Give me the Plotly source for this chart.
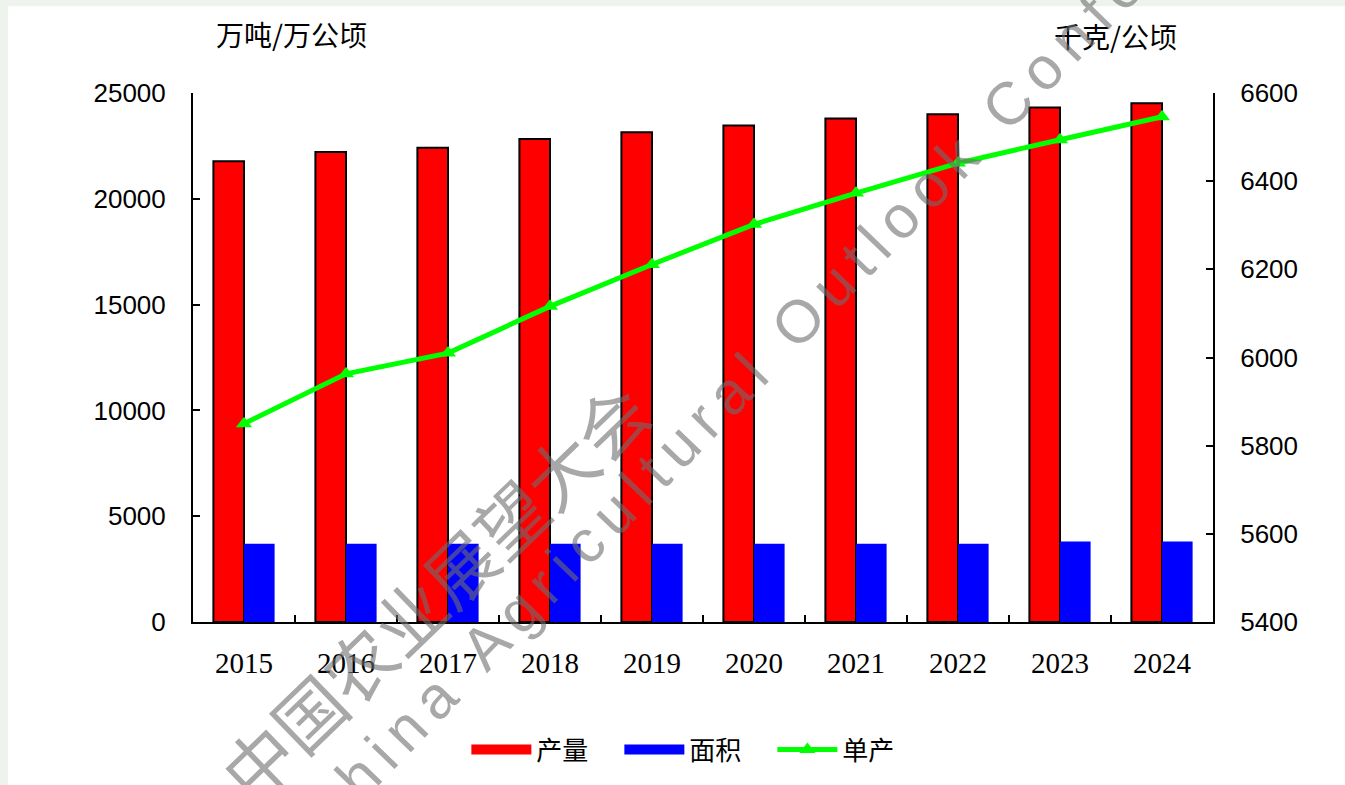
import plotly.graph_objects as go

years = ["2015", "2016", "2017", "2018", "2019", "2020", "2021", "2022", "2023", "2024"]
production = [21780, 22210, 22410, 22830, 23150, 23460, 23790, 24000, 24310, 24520]
area = [3700, 3700, 3700, 3700, 3700, 3700, 3700, 3700, 3810, 3810]
yield_ = [5850, 5963, 6010, 6116, 6211, 6302, 6373, 6441, 6494, 6546]

left_unit = "万吨/万公顷"
right_unit = "千克/公顷"
wm_cn = "中国农业展望大会"
wm_en = "China Agricultural Outlook Conference"

def spaced(s):
    return "\u2006".join(list(s))

RED, BLUE, GREEN = "#FF0000", "#0000FF", "#00FF00"

fig = go.Figure()
fig.add_trace(go.Bar(x=years, y=production, name="产量", showlegend=False, legendgroup="p",
                     marker=dict(color=RED, line=dict(color="black", width=2))))
fig.add_trace(go.Bar(x=years, y=area, name="面积", showlegend=False, legendgroup="a",
                     marker=dict(color=BLUE, line=dict(color=BLUE, width=0))))
fig.add_trace(go.Scatter(x=years, y=yield_, name="单产", yaxis="y2", mode="lines+markers",
                         showlegend=False, legendgroup="y",
                         line=dict(color=GREEN, width=5),
                         marker=dict(symbol="triangle-up", size=14, color=GREEN)))
# legend-only entries (wide swatches like the reference)
fig.add_trace(go.Scatter(x=[None], y=[None], name="产量", mode="lines", legendgroup="p",
                         line=dict(color=RED, width=16)))
fig.add_trace(go.Scatter(x=[None], y=[None], name="面积", mode="lines", legendgroup="a",
                         line=dict(color=BLUE, width=16)))
fig.add_trace(go.Scatter(x=[None], y=[None], name="单产", mode="lines+markers", legendgroup="y",
                         line=dict(color=GREEN, width=5),
                         marker=dict(symbol="triangle-up", size=14, color=GREEN)))

axis_common = dict(showline=True, linecolor="black", linewidth=2, ticks="inside",
                   ticklen=7, tickwidth=2, tickcolor="black", showgrid=False, zeroline=False)

fig.update_layout(
    width=1345, height=785,
    margin=dict(l=193, r=132, t=93, b=161),
    paper_bgcolor="#eef3ee", plot_bgcolor="white",
    barmode="group", bargap=0.4, bargroupgap=0,
    xaxis=dict(type="category", tickson="boundaries", range=[-0.5, len(years) - 0.5],
               **axis_common,
               tickfont=dict(family="Liberation Serif", size=29, color="black"),
               ticklabelstandoff=14),
    yaxis=dict(range=[0, 25000], dtick=5000, tickformat="d", **axis_common,
               tickfont=dict(family="Liberation Sans", size=26, color="black"),
               ticklabelstandoff=20),
    yaxis2=dict(range=[5400, 6600], dtick=200, tickformat="d", overlaying="y", side="right",
                **axis_common,
                tickfont=dict(family="Liberation Sans", size=26, color="black"),
                ticklabelstandoff=20),
    legend=dict(orientation="h", x=0.493, y=-0.241, xanchor="center", yanchor="middle",
                font=dict(family="Noto Sans CJK SC", size=26, color="black"),
                itemwidth=60, entrywidth=78, bgcolor="rgba(0,0,0,0)", traceorder="normal"),
    showlegend=True,
    shapes=[dict(type="rect", xref="paper", yref="paper", x0=-0.18137, x1=1.13, y0=-0.31, y1=1.1638,
                 fillcolor="white", line=dict(width=0), layer="below")],
    annotations=[
        dict(text=left_unit, xref="paper", yref="paper", x=0.0961, y=1.111, showarrow=False,
             xanchor="center", yanchor="middle",
             font=dict(family="Noto Sans CJK SC", size=28, color="black")),
        dict(text=right_unit, xref="paper", yref="paper", x=0.9049, y=1.107, showarrow=False,
             xanchor="center", yanchor="middle",
             font=dict(family="Noto Sans CJK SC", size=28, color="black")),
        dict(text=wm_cn, xref="paper", yref="paper", x=0.235, y=0.06, showarrow=False,
             xanchor="center", yanchor="middle", textangle=-44,
             font=dict(family="Noto Sans CJK SC", size=70, color="rgba(110,110,110,0.6)")),
        dict(text=spaced(wm_en), xref="paper", yref="paper", x=0.586, y=0.552, showarrow=False,
             xanchor="center", yanchor="middle", textangle=-46,
             font=dict(family="Liberation Sans", size=60, color="rgba(110,110,110,0.6)")),
    ],
)

fig.write_html("out.html", config={"displayModeBar": False},
               post_script="document.body.style.margin='0';document.body.style.background='#eef3ee';")
